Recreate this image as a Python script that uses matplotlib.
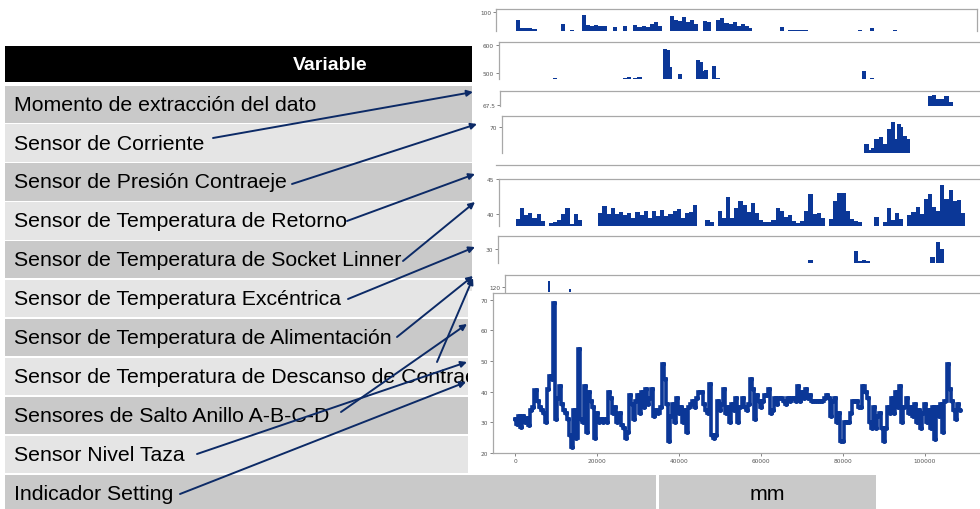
import numpy as np
import matplotlib
matplotlib.use("Agg")
import matplotlib.pyplot as plt
from matplotlib.patches import Rectangle

W, H = 980, 510

# ---------------- data ----------------
variables = [
    "Momento de extracción del dato",
    "Sensor de Corriente",
    "Sensor de Presión Contraeje",
    "Sensor de Temperatura de Retorno",
    "Sensor de Temperatura de Socket Linner",
    "Sensor de Temperatura Excéntrica",
    "Sensor de Temperatura de Alimentación",
    "Sensor de Temperatura de Descanso de Contraeje",
    "Sensores de Salto Anillo A-B-C-D",
    "Sensor Nivel Taza",
    "Indicador Setting",
]
header_label = "Variable"
last_unit = "mm"

# Main chart: Indicador Setting (mm), one reading every 500 samples
setting_step = 500
setting_mm = [
    31, 29.5, 32, 28.5, 32, 30, 31.5, 29, 34, 35, 40.5, 37, 35, 34, 33, 30, 41, 45, 44, 69,
    31, 38, 42, 36, 34, 33, 31, 26, 22, 34, 25, 54, 31, 30, 42, 27, 40, 37, 35, 25,
    33, 30, 31, 30, 31, 30, 40, 38, 33, 35, 30, 33, 29, 28, 25, 27, 39, 36, 31, 37,
    39, 33, 40, 35, 41, 36, 38, 41, 32, 34, 33, 35, 49, 44, 36, 24, 32, 36, 30, 38,
    33, 35, 30, 34, 27, 35, 36, 37, 35, 38, 40, 40, 36, 34, 33, 42.5, 26, 25, 26, 37,
    34, 36, 41, 33, 35, 30, 36, 34, 38, 30, 35, 38, 35, 34, 36, 44, 41, 31, 39, 37,
    35, 37, 39, 39, 41, 33, 34, 38, 36, 38, 38, 37, 36, 38, 37, 38, 38, 37, 42, 37,
    40, 38, 41, 38, 39, 37, 37, 37, 37, 37, 37, 38, 39, 38, 32, 37, 38, 30, 33, 24,
    24, 30, 30, 30, 33, 37, 37, 37, 35, 35, 42, 40, 38, 30, 28, 35, 28, 32, 33, 28,
    24, 28, 35, 33, 38, 33, 40, 35, 42, 30, 35, 38, 33, 35, 32, 36, 30, 34, 28, 33,
    36, 30, 34, 28, 35, 24.5, 35, 32, 36, 27, 37, 49, 41, 37, 34, 31, 36, 34,
]
main_xticks = [0, 20000, 40000, 60000, 80000, 100000]
main_yticks = [20, 30, 40, 50, 60, 70]

# Cropped strips (x in thousands of samples, only the visible top part)
s1_k = [0, 1, 2, 3, 4, 11, 13, 16, 17, 18, 19, 20, 21, 23.5, 26, 28.5, 29.5, 30.5, 31.5,
        32.5, 33.5, 34.5, 37.3, 38.3, 39.3, 40.3, 41.3, 42.3, 43.3, 45.4, 46.4, 48.6, 49.6,
        50.6, 51.6, 52.6, 53.6, 54.6, 55.5, 56.3, 64, 66, 67, 68, 69, 70, 75.7, 83, 86,
        91.5, 94.3, 100.8]
s1_v = [92.3, 83.7, 84.5, 83.7, 83.0, 88, 82.3, 97, 87, 85.7, 87, 85.7, 86, 84.7, 86.3, 87,
        84.7, 86, 84.7, 88, 89.7, 86, 96.3, 92.3, 91, 95, 89.7, 92.3, 88, 91.3, 90, 92.3,
        93.7, 89, 87.7, 89.7, 85.7, 88, 85.7, 83.7, 84.7, 82, 82.5, 82, 82.5, 82, 81.3,
        82.3, 83.7, 82.3, 81.3, 81.3]
s1_ticks = [100]

s2_k = [9, 26, 27, 28.5, 29.5, 35.7, 36.3, 36.8, 39.3, 43.7, 44.5, 45.2, 45.7, 47.6, 48.5, 84, 86]
s2_v = [482, 483, 484, 482, 485, 586, 583, 521, 496, 545, 540, 507, 510, 526, 481, 507, 481]
s2_ticks = [500, 600]

s3_k = [100, 101, 102, 103, 104, 105]
s3_v = [68.6, 68.7, 68.3, 68.2, 68.6, 67.9]
s3_ticks = [67.5]

s4_k = [84.6, 85.5, 86.3, 87, 88, 89, 90, 91, 92, 92.5, 93, 94, 94.7]
s4_v = [63.2, 60.9, 61.5, 65.2, 65.9, 63.2, 69.2, 72.1, 65.2, 71.2, 69.9, 66.5, 65.2]
s4_ticks = [70]

s5_v = [39.3, 40.8, 39.8, 40.2, 39.5, 40.0, 39.0, 38.0, 38.7, 38.8,
        39.2, 40.0, 40.8, 38.6, 40.0, 39.2, 38.0, 38.0, 38.0, 38.0,
        40.2, 41.2, 40.0, 40.8, 40.0, 40.3, 39.8, 40.2, 39.4, 40.3,
        39.8, 40.4, 39.5, 40.4, 39.7, 40.6, 39.7, 40.0, 40.4, 40.7,
        39.5, 40.1, 40.3, 41.3, 38.0, 38.0, 39.2, 38.8, 38.0, 40.5,
        39.5, 42.5, 39.5, 40.8, 41.8, 41.3, 40.3, 41.6, 40.2, 39.2,
        38.8, 38.8, 39.2, 40.9, 40.5, 39.6, 39.8, 39.0, 38.7, 39.0,
        40.4, 42.9, 40.0, 40.2, 39.4, 38.0, 39.3, 41.8, 43.0, 43.0,
        40.5, 39.3, 39.0, 38.8, 38.0, 38.0, 38.0, 39.6, 38.0, 38.8,
        40.8, 39.2, 40.2, 39.3, 38.0, 39.9, 40.3, 41.0, 40.0, 42.2,
        42.9, 41.0, 40.5, 44.2, 42.2, 43.5, 41.8, 42.0, 40.2]
s5_ticks = [40, 45]

s6_k = [71, 82, 83, 84, 85, 100.6, 102, 103]
s6_v = [27.9, 29.7, 27.7, 27.8, 27.6, 28.4, 31.4, 30.0]
s6_ticks = [30]

s7_k = [7.5, 12.6]
s7_v = [126.3, 118]
s7_ticks = [120]

# ---------------- drawing ----------------
BLUE = "#0b3797"
NAVY = "#0c2a66"
SPINE = "#a8a8a8"
TICKC = "#555555"
TXT_FONT = ["Liberation Sans", "DejaVu Sans"]
FS = 15.3

fig = plt.figure(figsize=(W / 100, H / 100), dpi=100)
fig.patch.set_facecolor("white")

bg = fig.add_axes([0, 0, 1, 1])
bg.set_xlim(0, W)
bg.set_ylim(H, 0)
bg.axis("off")


def rect(x0, y0, x1, y1, color, z):
    bg.add_patch(Rectangle((x0, y0), x1 - x0, y1 - y0, facecolor=color,
                           edgecolor="none", zorder=z))


# table
rect(5, 47, 980, 83, "black", 1)
bg.text(330, 65.5, header_label, color="white", fontsize=14, fontweight="bold",
        family=TXT_FONT, ha="center", va="center", zorder=2)
row_top0, pitch, rh = 86.5, 38.9, 37.3
for i, name in enumerate(variables):
    y0 = row_top0 + i * pitch
    col = "#c9c9c9" if i % 2 == 0 else "#e5e5e5"
    if i == len(variables) - 1:
        rect(5, y0, 656, H + 2, col, 1)
        rect(659, y0, 876, H + 2, col, 1)
        bg.text(767, y0 + rh / 2, last_unit, fontsize=FS, family=TXT_FONT,
                ha="center", va="center", zorder=2)
    else:
        rect(5, y0, 980, y0 + rh, col, 1)
    bg.text(14, y0 + rh / 2, name, fontsize=FS, family=TXT_FONT,
            ha="left", va="center", zorder=2)

# white screenshot backgrounds
rect(472, 0, 980, 293, "white", 3)
rect(468, 292, 980, 474, "white", 3)
bg.plot([496, 980], [166, 166], color=SPINE, lw=0.9, zorder=4)


def px_ax(l, t, r, b):
    return fig.add_axes([l / W, 1 - b / H, (r - l) / W, (b - t) / H])


def strip(l, t, r, b, vb, vt, ks, vs, ticks, width=1.0, labels=None):
    ax = px_ax(l, t, r, b)
    ax.set_facecolor("none")
    ax.set_xlim((l - 518) / 4.12, (r - 518) / 4.12)
    ax.set_ylim(vb, vt)
    h = np.clip(np.asarray(vs, dtype=float) - vb, 0, None)
    ax.bar(ks, h, bottom=vb, width=width, color=BLUE, linewidth=0, align="center")
    for s in ("top", "left", "right"):
        ax.spines[s].set_color(SPINE)
        ax.spines[s].set_linewidth(0.9)
    ax.spines["bottom"].set_visible(False)
    ax.set_xticks([])
    ax.set_yticks(ticks)
    if labels is not None:
        ax.set_yticklabels(labels)
    ax.tick_params(axis="y", labelsize=4.2, colors=TICKC, length=2, width=0.5, pad=1.5)
    return ax


strip(496, 10, 977, 32, 81, 103, s1_k, s1_v, s1_ticks)
strip(499, 43, 981, 80, 478.6, 610.7, s2_k, s2_v, s2_ticks)
strip(500, 92, 981, 107, 67.375, 69.25, s3_k, s3_v, s3_ticks, labels=["67.5"])
strip(502, 117, 981, 154, 59.6, 74.4, s4_k, s4_v, s4_ticks)
strip(499, 180, 981, 227, 38.3, 45, np.arange(len(s5_v)), s5_v, s5_ticks)
strip(498, 237, 981, 264, 27.2, 32.6, s6_k, s6_v, s6_ticks)
strip(505, 276, 981, 293, 115, 132, s7_k, s7_v, s7_ticks, width=0.5)

# main chart
ax = px_ax(493, 294, 981, 454)
ax.set_facecolor("white")
setting_t = np.arange(len(setting_mm)) * setting_step
ax.plot(setting_t, setting_mm, drawstyle="steps-mid", color=BLUE, lw=2.6,
        marker="o", ms=2.6, solid_joinstyle="miter")
ax.set_xlim(-5366, 113660)
ax.set_ylim(20, 72.2)
ax.set_xticks(main_xticks)
ax.set_yticks(main_yticks)
for s in ("top", "left", "bottom"):
    ax.spines[s].set_color(SPINE)
    ax.spines[s].set_linewidth(0.9)
ax.spines["right"].set_visible(False)
ax.tick_params(labelsize=4.2, colors=TICKC, length=2, width=0.5, pad=1.5)

# arrows overlay
ov = fig.add_axes([0, 0, 1, 1])
ov.set_xlim(0, W)
ov.set_ylim(H, 0)
ov.axis("off")
ov.patch.set_alpha(0)
arrows = [
    ((213, 139), (473, 93)),
    ((292, 185), (477, 125)),
    ((347, 222), (475, 175)),
    ((403, 262), (475, 203)),
    ((348, 300), (475, 248)),
    ((397, 338), (473, 277)),
    ((437, 363), (473, 279)),
    ((341, 413), (467, 325)),
    ((197, 455), (467, 363)),
    ((180, 495), (466, 383)),
]
for (x0, y0), (x1, y1) in arrows:
    ov.annotate("", xy=(x1, y1), xytext=(x0, y0),
                arrowprops=dict(arrowstyle="-|>", color=NAVY, lw=1.4,
                                mutation_scale=9, shrinkA=0, shrinkB=0))

fig.savefig("out.png", dpi=100)
